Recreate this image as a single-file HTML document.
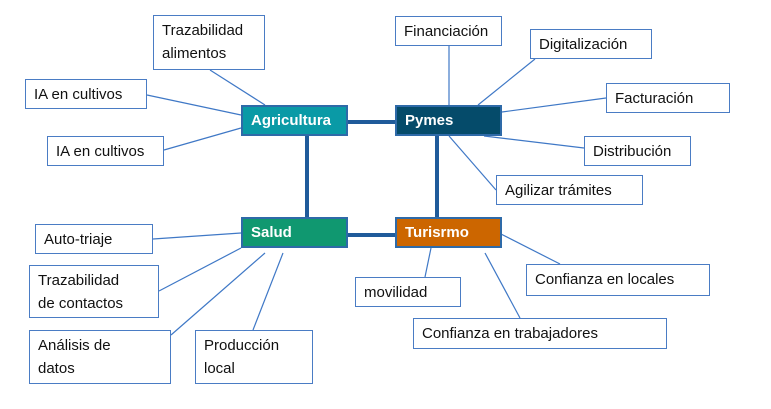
<!DOCTYPE html>
<html><head><meta charset="utf-8"><style>
body{margin:0;width:771px;height:409px;background:#fff;position:relative;overflow:hidden;font-family:"Liberation Sans",sans-serif}
.b{position:absolute;box-sizing:border-box;border:1.5px solid #4a7cc4;background:#fff;color:#111;font-size:15px;line-height:23px;padding:3px 8px;white-space:nowrap}
.m{position:absolute;box-sizing:border-box;border:2px solid #2e6aa8;color:#fff;font-size:15px;font-weight:bold;padding:5px 8px;line-height:18px}
svg{position:absolute;left:0;top:0}
</style></head><body>
<svg width="771" height="409">
<g stroke="#1f5b9a" stroke-width="4">
<line x1="348" y1="122" x2="395" y2="122"/><line x1="348" y1="235" x2="395" y2="235"/>
<line x1="307" y1="136" x2="307" y2="217"/><line x1="437" y1="136" x2="437" y2="217"/>
</g>
<g stroke="#3f78c6" stroke-width="1.2">
<line x1="210" y1="70" x2="265" y2="105"/>
<line x1="147" y1="95" x2="241" y2="115"/>
<line x1="164" y1="150" x2="241" y2="128"/>
<line x1="449" y1="46" x2="449" y2="105"/>
<line x1="535" y1="59" x2="478" y2="105"/>
<line x1="606" y1="98" x2="502" y2="112"/>
<line x1="484" y1="136" x2="584" y2="148"/>
<line x1="496" y1="190" x2="449" y2="136"/>
<line x1="153" y1="239" x2="241" y2="233"/>
<line x1="159" y1="291" x2="241" y2="248"/>
<line x1="171" y1="335" x2="265" y2="253"/>
<line x1="253" y1="330" x2="283" y2="253"/>
<line x1="425" y1="277" x2="431" y2="248"/>
<line x1="560" y1="264" x2="497" y2="232"/>
<line x1="520" y1="318" x2="485" y2="253"/>
</g>
</svg>
<div class="m" style="left:241px;top:105px;width:107px;height:31px;background:#0a9aa6">Agricultura</div>
<div class="m" style="left:395px;top:105px;width:107px;height:31px;background:#054b6a">Pymes</div>
<div class="m" style="left:241px;top:217px;width:107px;height:31px;background:#109870">Salud</div>
<div class="m" style="left:395px;top:217px;width:107px;height:31px;background:#cc6600">Turisrmo</div>
<div class="b" style="left:153px;top:15px;width:112px;height:55px">Trazabilidad<br>alimentos</div>
<div class="b" style="left:25px;top:79px;width:122px;height:30px">IA en cultivos</div>
<div class="b" style="left:47px;top:136px;width:117px;height:30px">IA en cultivos</div>
<div class="b" style="left:395px;top:16px;width:107px;height:30px">Financiación</div>
<div class="b" style="left:530px;top:29px;width:122px;height:30px">Digitalización</div>
<div class="b" style="left:606px;top:83px;width:124px;height:30px">Facturación</div>
<div class="b" style="left:584px;top:136px;width:107px;height:30px">Distribución</div>
<div class="b" style="left:496px;top:175px;width:147px;height:30px">Agilizar trámites</div>
<div class="b" style="left:35px;top:224px;width:118px;height:30px">Auto-triaje</div>
<div class="b" style="left:29px;top:265px;width:130px;height:53px">Trazabilidad<br>de contactos</div>
<div class="b" style="left:29px;top:330px;width:142px;height:54px">Análisis de<br>datos</div>
<div class="b" style="left:195px;top:330px;width:118px;height:54px">Producción<br>local</div>
<div class="b" style="left:355px;top:277px;width:106px;height:30px">movilidad</div>
<div class="b" style="left:526px;top:264px;width:184px;height:32px">Confianza en locales</div>
<div class="b" style="left:413px;top:318px;width:254px;height:31px">Confianza en trabajadores</div>
</body></html>
